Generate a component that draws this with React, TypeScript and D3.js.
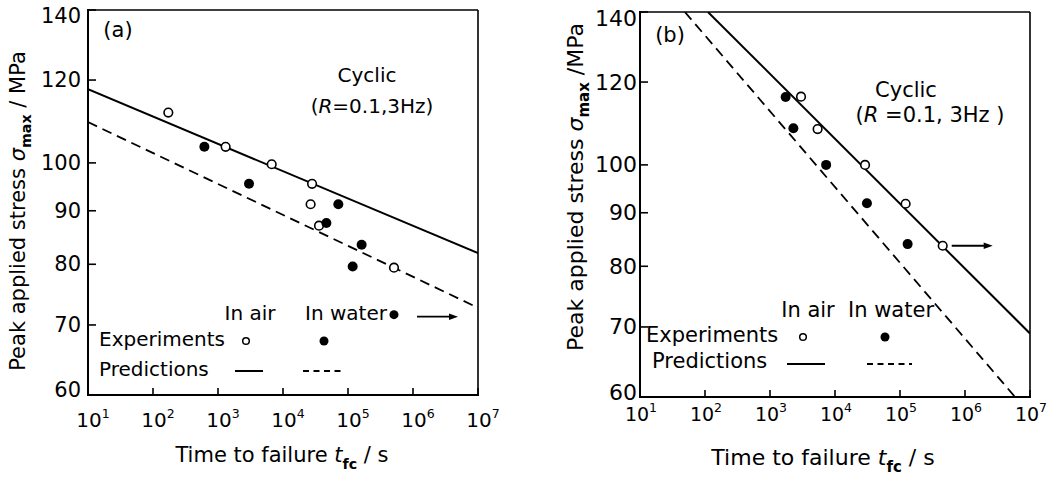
import React from "react";
import * as d3 from "d3";

// ---------- data ----------
const xTickExponents = [1, 2, 3, 4, 5, 6, 7];
const yTickValues = [60, 70, 80, 90, 100, 120, 140];

// Panel (a)
const aAirTime = [172, 1310, 6700, 28000, 26600, 35800, 510000];
const aAirStress = [111.7, 103.6, 99.7, 95.5, 91.3, 87.1, 79.4];
const aWaterTime = [617, 3000, 71000, 46500, 162000, 118000];
const aWaterStress = [103.6, 95.5, 91.3, 87.6, 83.5, 79.6];
const aWaterRunoutTime = [510000];
const aWaterRunoutStress = [71.6];
const aAirRunoutTime: number[] = [];
const aAirRunoutStress: number[] = [];
const aPredAirTime = [10, 1e7];
const aPredAirStress = [117.6, 82.0];
const aPredWaterTime = [10, 1e7];
const aPredWaterStress = [109.4, 72.7];

// Panel (b)
const bAirTime = [3000, 5400, 29000, 122000];
const bAirStress = [116.2, 108.2, 100.0, 91.8];
const bAirRunoutTime = [454000];
const bAirRunoutStress = [83.7];
const bWaterTime = [1740, 2290, 7300, 31000, 131000];
const bWaterStress = [116.1, 108.4, 100.0, 91.9, 84.0];
const bWaterRunoutTime: number[] = [];
const bWaterRunoutStress: number[] = [];
const bPredAirTime = [111, 1e7];
const bPredAirStress = [140, 69];
const bPredWaterTime = [49, 5.9e6];
const bPredWaterStress = [140, 60];

const FONT = "'DejaVu Sans', Verdana, sans-serif";

type Layout = {
  x0: number; x1: number; y0: number; y1: number;
  fs: number; yTickFs: number; xTickFs: number;
  yTickLabelX: number; xTickLabelY: number; xTickShift: number;
  xLabel: { x: number; y: number; fs: number };
  yLabel: { x: number; y: number; fs: number; sep: string };
  tag: { text: string; x: number; y: number };
  cyclic: { x: number; y: number };
  cond: { x: number; y: number; text: string };
  inAir: { x: number; y: number };
  inWater: { x: number; y: number };
  exp: { x: number; y: number };
  pred: { x: number; y: number };
  legAirX: number; legWaterX: number; legCircY: number;
  legSolid: [number, number]; legDash: [number, number]; legLineY: number;
  arrowGap: number; arrowLen: number;
};

type PanelData = {
  airT: number[]; airS: number[];
  waterT: number[]; waterS: number[];
  airRunT: number[]; airRunS: number[];
  waterRunT: number[]; waterRunS: number[];
  predAirT: number[]; predAirS: number[];
  predWaterT: number[]; predWaterS: number[];
};

const layoutA: Layout = {
  x0: 88, x1: 478, y0: 395, y1: 10,
  fs: 20, yTickFs: 21, xTickFs: 20,
  yTickLabelX: 81, xTickLabelY: 427, xTickShift: 5,
  xLabel: { x: 282, y: 462, fs: 21 },
  yLabel: { x: 25, y: 211, fs: 21, sep: " / " },
  tag: { text: "(a)", x: 118, y: 37 },
  cyclic: { x: 367, y: 82 },
  cond: { x: 372, y: 113, text: "=0.1,3Hz)" },
  inAir: { x: 250, y: 320 },
  inWater: { x: 305, y: 320 },
  exp: { x: 99, y: 346 },
  pred: { x: 99, y: 376 },
  legAirX: 246, legWaterX: 324, legCircY: 341,
  legSolid: [235, 263], legDash: [303, 342], legLineY: 371,
  arrowGap: 23, arrowLen: 41,
};

const layoutB: Layout = {
  x0: 640, x1: 1030, y0: 397, y1: 12,
  fs: 21, yTickFs: 22, xTickFs: 19,
  yTickLabelX: 637, xTickLabelY: 421, xTickShift: 1,
  xLabel: { x: 823, y: 465, fs: 22 },
  yLabel: { x: 583, y: 187, fs: 22, sep: " /" },
  tag: { text: "(b)", x: 670, y: 42 },
  cyclic: { x: 906, y: 97 },
  cond: { x: 930, y: 122, text: " =0.1, 3Hz )" },
  inAir: { x: 808, y: 317 },
  inWater: { x: 848, y: 317 },
  exp: { x: 646, y: 342 },
  pred: { x: 652, y: 368 },
  legAirX: 803, legWaterX: 885, legCircY: 337,
  legSolid: [787, 825], legDash: [867, 912], legLineY: 364,
  arrowGap: 9, arrowLen: 41,
};

const dataA: PanelData = {
  airT: aAirTime, airS: aAirStress, waterT: aWaterTime, waterS: aWaterStress,
  airRunT: aAirRunoutTime, airRunS: aAirRunoutStress,
  waterRunT: aWaterRunoutTime, waterRunS: aWaterRunoutStress,
  predAirT: aPredAirTime, predAirS: aPredAirStress,
  predWaterT: aPredWaterTime, predWaterS: aPredWaterStress,
};

const dataB: PanelData = {
  airT: bAirTime, airS: bAirStress, waterT: bWaterTime, waterS: bWaterStress,
  airRunT: bAirRunoutTime, airRunS: bAirRunoutStress,
  waterRunT: bWaterRunoutTime, waterRunS: bWaterRunoutStress,
  predAirT: bPredAirTime, predAirS: bPredAirStress,
  predWaterT: bPredWaterTime, predWaterS: bPredWaterStress,
};

function Arrow({ x, y, len }: { x: number; y: number; len: number }) {
  const head = 9;
  return (
    <g>
      <line x1={x} y1={y} x2={x + len - head + 1} y2={y} stroke="#000" strokeWidth={1.8} />
      <path d={`M${x + len},${y} L${x + len - head},${y - 3.2} L${x + len - head},${y + 3.2} Z`} fill="#000" />
    </g>
  );
}

function Panel({ L, D }: { L: Layout; D: PanelData }) {
  const x = d3.scaleLog().domain([1e1, 1e7]).range([L.x0, L.x1]);
  const y = d3.scaleLog().domain([60, 140]).range([L.y0, L.y1]);
  const line = d3
    .line<[number, number]>()
    .x((d) => x(d[0]))
    .y((d) => y(d[1]));
  const predAir = D.predAirT.map((t, i) => [t, D.predAirS[i]] as [number, number]);
  const predWater = D.predWaterT.map((t, i) => [t, D.predWaterS[i]] as [number, number]);
  const clipId = `clip-${L.x0}`;
  const black = "#000";

  return (
    <g fontFamily={FONT} fill={black}>
      <defs>
        <clipPath id={clipId}>
          <rect x={L.x0} y={L.y1} width={L.x1 - L.x0} height={L.y0 - L.y1} />
        </clipPath>
      </defs>

      {/* frame */}
      <line x1={L.x0} y1={L.y1} x2={L.x1} y2={L.y1} stroke={black} strokeWidth={1.6} />
      <line x1={L.x1} y1={L.y1} x2={L.x1} y2={L.y0} stroke={black} strokeWidth={1.6} />
      <line x1={L.x0} y1={L.y1 - 1} x2={L.x0} y2={L.y0 + 1} stroke={black} strokeWidth={2} />
      <line x1={L.x0 - 1} y1={L.y0} x2={L.x1 + 1} y2={L.y0} stroke={black} strokeWidth={2} />

      {/* y ticks */}
      {yTickValues.map((v) => {
        const yy = y(v);
        const ly = Math.min(Math.max(yy, L.y1 + 6), L.y0 - 5);
        return (
          <g key={`yt${v}`}>
            <line x1={L.x0} x2={L.x0 + 8} y1={yy} y2={yy} stroke={black} strokeWidth={1.6} />
            <text x={L.yTickLabelX} y={ly} textAnchor="end" dominantBaseline="central" fontSize={L.yTickFs}>
              {v}
            </text>
          </g>
        );
      })}

      {/* x ticks */}
      {xTickExponents.map((e) => {
        const xx = x(Math.pow(10, e));
        return (
          <g key={`xt${e}`}>
            <line x1={xx} x2={xx} y1={L.y0} y2={L.y0 - 7} stroke={black} strokeWidth={1.6} />
            <text x={xx + L.xTickShift} y={L.xTickLabelY} textAnchor="middle" fontSize={L.xTickFs}>
              <tspan>10</tspan>
              <tspan dy={-9} fontSize={12.5}>{e}</tspan>
            </text>
          </g>
        );
      })}

      {/* axis labels */}
      <text x={L.xLabel.x} y={L.xLabel.y} textAnchor="middle" fontSize={L.xLabel.fs}>
        <tspan>Time to failure </tspan>
        <tspan fontStyle="italic">t</tspan>
        <tspan dy={7} fontSize={L.xLabel.fs * 0.68} fontWeight="bold">fc</tspan>
        <tspan dy={-7}> / s</tspan>
      </text>
      <text
        transform={`translate(${L.yLabel.x},${L.yLabel.y}) rotate(-90)`}
        textAnchor="middle"
        fontSize={L.yLabel.fs}
      >
        <tspan>Peak applied stress </tspan>
        <tspan fontStyle="italic">σ</tspan>
        <tspan dy={6} fontSize={L.yLabel.fs * 0.68} fontWeight="bold">max</tspan>
        <tspan dy={-6}>{L.yLabel.sep}MPa</tspan>
      </text>

      {/* prediction lines */}
      <g clipPath={`url(#${clipId})`}>
        <path d={line(predAir) || ""} fill="none" stroke={black} strokeWidth={2} />
        <path d={line(predWater) || ""} fill="none" stroke={black} strokeWidth={1.8} strokeDasharray="10,6" />
      </g>

      {/* experiments */}
      {D.airT.map((t, i) => (
        <circle key={`a${i}`} cx={x(t)} cy={y(D.airS[i])} r={4.3} fill="#fff" stroke={black} strokeWidth={1.6} />
      ))}
      {D.waterT.map((t, i) => (
        <circle key={`w${i}`} cx={x(t)} cy={y(D.waterS[i])} r={5} fill={black} />
      ))}
      {D.airRunT.map((t, i) => (
        <g key={`ar${i}`}>
          <circle cx={x(t)} cy={y(D.airRunS[i])} r={4.3} fill="#fff" stroke={black} strokeWidth={1.6} />
          <Arrow x={x(t) + L.arrowGap} y={y(D.airRunS[i])} len={L.arrowLen} />
        </g>
      ))}
      {D.waterRunT.map((t, i) => (
        <g key={`wr${i}`}>
          <circle cx={x(t)} cy={y(D.waterRunS[i])} r={4.5} fill={black} />
          <Arrow x={x(t) + L.arrowGap} y={y(D.waterRunS[i]) + 2} len={L.arrowLen} />
        </g>
      ))}

      {/* annotations */}
      <text x={L.tag.x} y={L.tag.y} textAnchor="middle" fontSize={21}>{L.tag.text}</text>
      <text x={L.cyclic.x} y={L.cyclic.y} textAnchor="middle" fontSize={L.fs}>Cyclic</text>
      <text x={L.cond.x} y={L.cond.y} textAnchor="middle" fontSize={L.fs}>
        <tspan>(</tspan>
        <tspan fontStyle="italic">R</tspan>
        <tspan>{L.cond.text}</tspan>
      </text>

      {/* legend */}
      <text x={L.inAir.x} y={L.inAir.y} textAnchor="middle" fontSize={L.fs}>In air</text>
      <text x={L.inWater.x} y={L.inWater.y} fontSize={L.fs}>In water</text>
      <text x={L.exp.x} y={L.exp.y} fontSize={L.fs}>Experiments</text>
      <text x={L.pred.x} y={L.pred.y} fontSize={L.fs}>Predictions</text>
      <circle cx={L.legAirX} cy={L.legCircY} r={3.3} fill="#fff" stroke={black} strokeWidth={1.5} />
      <circle cx={L.legWaterX} cy={L.legCircY} r={4.5} fill={black} />
      <line x1={L.legSolid[0]} x2={L.legSolid[1]} y1={L.legLineY} y2={L.legLineY} stroke={black} strokeWidth={2} />
      <line x1={L.legDash[0]} x2={L.legDash[1]} y1={L.legLineY} y2={L.legLineY} stroke={black} strokeWidth={2} strokeDasharray="6,4.5" />
    </g>
  );
}

export default function App() {
  return (
    <svg
      width={1050}
      height={478}
      viewBox="0 0 1050 478"
      style={{ position: "absolute", left: 0, top: 0, background: "#fff" }}
    >
      <rect x={0} y={0} width={1050} height={478} fill="#fff" />
      <Panel L={layoutA} D={dataA} />
      <Panel L={layoutB} D={dataB} />
    </svg>
  );
}
